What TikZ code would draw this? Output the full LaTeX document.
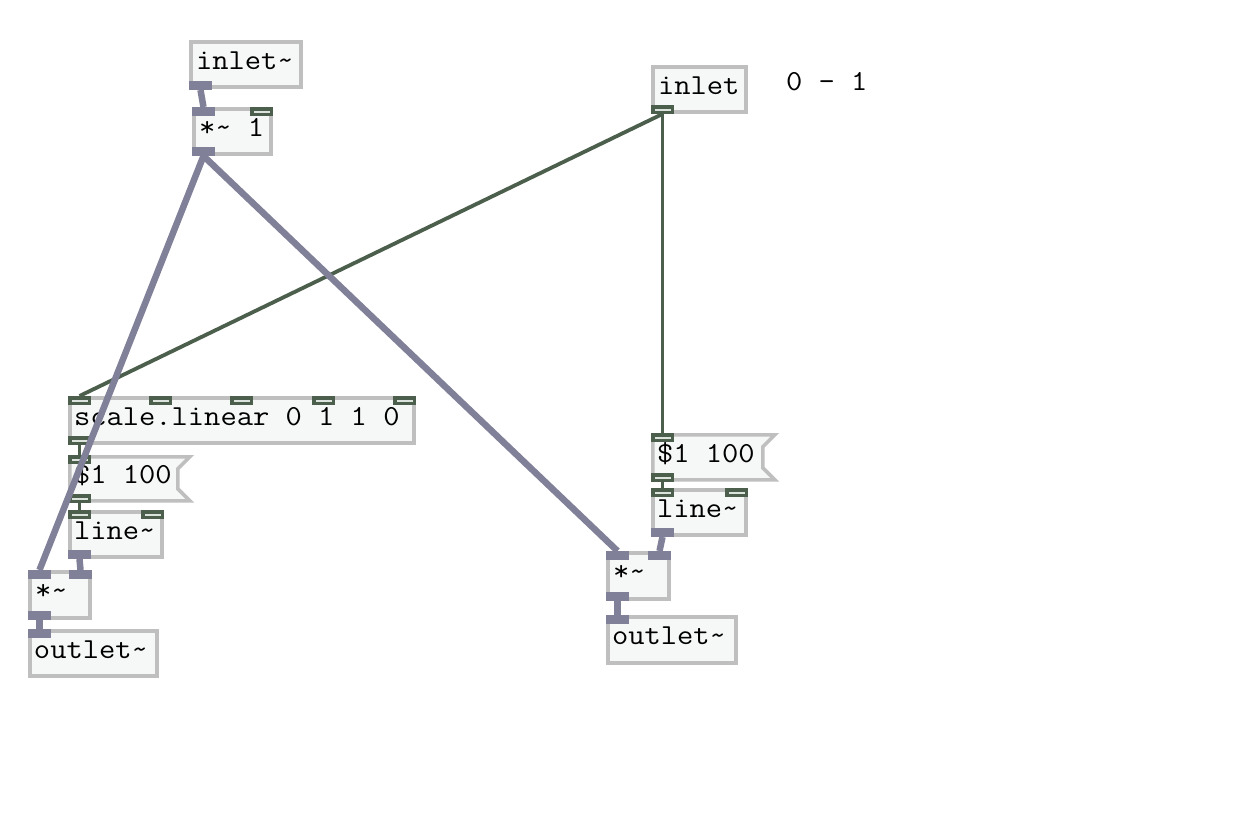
\documentclass[tikz,border=0pt]{standalone}
\usepackage{fontspec}
\newfontfamily\pdfont[FakeStretch=1.09]{Latin Modern Mono}
\definecolor{boxgray}{RGB}{191,191,191}
\definecolor{boxfill}{RGB}{246,248,247}
\definecolor{sigcol}{RGB}{128,128,153}
\definecolor{ctlcol}{RGB}{76,94,76}
\definecolor{ctlinner}{RGB}{220,226,220}
\newcommand\tld{\textasciitilde}
\begin{document}
\begin{tikzpicture}[x=1pt,y=-1pt,
  box/.style={draw=boxgray, fill=boxfill, line width=3.6pt, rectangle, anchor=north west, inner sep=0pt, outer sep=0pt},
  msgframe/.style={draw=boxgray, fill=boxfill, line width=3.6pt},
  msgshape/.style={rectangle, anchor=north west, inner sep=0pt, outer sep=0pt},
  pdtext/.style={anchor=base west, inner sep=0pt, outer sep=0pt, font=\pdfont\fontsize{29}{29}\selectfont, text=black},
  port/.style={rectangle, anchor=north west, inner sep=0pt, outer sep=0pt, minimum width=23pt, minimum height=9pt},
  sigport/.style={port, fill=sigcol},
  ctlport/.style={port, fill=ctlcol, path picture={\fill[ctlinner] ([xshift=3.5pt,yshift=-3.5pt]path picture bounding box.north west) rectangle ([xshift=-3.5pt,yshift=-5.5pt]path picture bounding box.north east);}},
  sigcord/.style={draw=sigcol, line width=6.5pt},
  ctlcord/.style={draw=ctlcol, line width=3.8pt}
]
\useasboundingbox (0,0) rectangle (1256,839);
\fill[white] (0,0) rectangle (1256,839);

% ---- boxes (outer left, top, width, height) ----
\node[box, minimum width=110pt, minimum height=45pt] (A) at (190.8,41.8) {};
\node[pdtext] (At) at (196,69) {inlet\tld};
\node[box, minimum width=77pt, minimum height=45pt] (B) at (193.8,108.8) {};
\node[pdtext] (Bt) at (199,136) {*\tld{} 1};
\node[box, minimum width=93pt, minimum height=45pt] (C) at (652.8,66.8) {};
\node[pdtext] (Ct) at (658,94) {inlet};
\node[pdtext] (cm) at (786,90) {0 - 1};
\node[box, minimum width=344pt, minimum height=45pt] (D) at (69.8,397.8) {};
\node[pdtext] (Dt) at (74,425) {scale.linear 0 1 1 0};
\node[msgshape, minimum width=120pt, minimum height=44pt] (E) at (69.8,456.8) {};
\draw[msgframe] (E.north west) -- (E.north east) -- ([xshift=-12pt,yshift=-12pt]E.north east) -- ([xshift=-12pt,yshift=12pt]E.south east) -- (E.south east) -- (E.south west) -- cycle;
\node[pdtext] (Et) at (74,483) {\$1 100};
\node[box, minimum width=92pt, minimum height=45pt] (F) at (69.8,511.8) {};
\node[pdtext] (Ft) at (74,539) {line\tld};
\node[box, minimum width=60pt, minimum height=46pt] (G) at (29.8,571.8) {};
\node[pdtext] (Gt) at (35,599) {*\tld};
\node[box, minimum width=127pt, minimum height=45pt] (H) at (29.8,630.8) {};
\node[pdtext] (Ht) at (34,658) {outlet\tld};
\node[msgshape, minimum width=122pt, minimum height=45pt] (I) at (652.8,434.8) {};
\draw[msgframe] (I.north west) -- (I.north east) -- ([xshift=-12pt,yshift=-12pt]I.north east) -- ([xshift=-12pt,yshift=12pt]I.south east) -- (I.south east) -- (I.south west) -- cycle;
\node[pdtext] (It) at (657,462) {\$1 100};
\node[box, minimum width=93pt, minimum height=45pt] (J) at (652.8,489.8) {};
\node[pdtext] (Jt) at (657,517) {line\tld};
\node[box, minimum width=61pt, minimum height=46pt] (K) at (607.8,552.8) {};
\node[pdtext] (Kt) at (613,580) {*\tld};
\node[box, minimum width=128pt, minimum height=46pt] (L) at (607.8,616.8) {};
\node[pdtext] (Lt) at (612,644) {outlet\tld};

% ---- ports ----
\node[sigport] (Ao) at (189,81) {};
\node[sigport] (Bi0) at (192,107) {};
\node[ctlport] (Bi1) at (250,107) {};
\node[sigport] (Bo) at (192,147) {};
\node[ctlport] (Co) at (651,105) {};
\node[ctlport] (Di0) at (68,396) {};
\node[ctlport] (Di1) at (149,396) {};
\node[ctlport] (Di2) at (230,396) {};
\node[ctlport] (Di3) at (312,396) {};
\node[ctlport] (Di4) at (393,396) {};
\node[ctlport] (Do) at (68,436) {};
\node[ctlport] (Ei) at (68,455) {};
\node[ctlport] (Eo) at (68,494) {};
\node[ctlport] (Fi0) at (68,510) {};
\node[ctlport] (Fi1) at (141,510) {};
\node[sigport] (Fo) at (68,550) {};
\node[sigport] (Gi0) at (28,570) {};
\node[sigport] (Gi1) at (69,570) {};
\node[sigport] (Go) at (28,611) {};
\node[sigport] (Hi) at (28,629) {};
\node[ctlport] (Ii) at (651,433) {};
\node[ctlport] (Io) at (651,473) {};
\node[ctlport] (Ji0) at (651,488) {};
\node[ctlport] (Ji1) at (725,488) {};
\node[sigport] (Jo) at (651,528) {};
\node[sigport] (Ki0) at (606,551) {};
\node[sigport] (Ki1) at (648,551) {};
\node[sigport] (Ko) at (606,592) {};
\node[sigport] (Li) at (606,615) {};

% ---- control cords ----
\draw[ctlcord] (Co.south) -- (Di0.north);
\draw[ctlcord] (Co.south) -- (Ii.north);
\draw[ctlcord] (Do.south) -- (Ei.north);
\draw[ctlcord] (Eo.south) -- (Fi0.north);
\draw[ctlcord] (Io.south) -- (Ji0.north);

% ---- signal cords ----
\draw[sigcord] (Ao.south) -- (Bi0.north);
\draw[sigcord] (Bo.south) -- (Gi0.north);
\draw[sigcord] (Bo.south) -- (Ki0.north);
\draw[sigcord] (Fo.south) -- (Gi1.north);
\draw[sigcord] (Go.south) -- (Hi.north);
\draw[sigcord] (Jo.south) -- (Ki1.north);
\draw[sigcord] (Ko.south) -- (Li.north);
\end{tikzpicture}
\end{document}
